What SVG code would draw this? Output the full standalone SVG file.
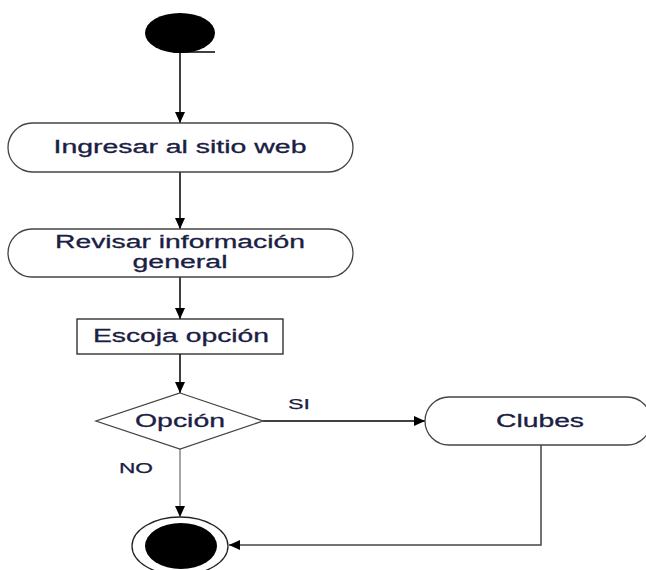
<svg xmlns="http://www.w3.org/2000/svg" width="646" height="570" viewBox="0 0 646 570">
  <defs>
    <marker id="arrow" markerUnits="userSpaceOnUse" markerWidth="12" markerHeight="10" refX="11" refY="5" orient="auto">
      <path d="M0,0 L11,5 L0,10 Z" fill="#000"/>
    </marker>
    <style>
      .box { fill: #fff; stroke: #444; stroke-width: 1.3; }
      .edge { fill: none; stroke: #000; stroke-width: 1.5; }
      .label { font-family: "Liberation Sans", Arial, sans-serif; font-size: 18px; fill: #1a2044; stroke: #1a2044; stroke-width: 0.3; text-anchor: middle; }
      .small { font-size: 14px; stroke-width: 0.25; }
    </style>
  </defs>
  <rect width="646" height="570" fill="#fff"/>

  <g id="connectors">
    <line class="edge" x1="173" y1="52" x2="215" y2="52"/>
    <line class="edge" x1="180" y1="52" x2="180" y2="123" marker-end="url(#arrow)"/>
    <line class="edge" x1="180" y1="172" x2="180" y2="229" marker-end="url(#arrow)"/>
    <line class="edge" x1="180" y1="277" x2="180" y2="319" marker-end="url(#arrow)"/>
    <line class="edge" x1="180" y1="354" x2="180" y2="393" marker-end="url(#arrow)"/>
    <line class="edge" x1="263" y1="421" x2="425" y2="421" marker-end="url(#arrow)"/>
    <line class="edge" x1="180" y1="449" x2="180" y2="517" style="stroke:#888" marker-end="url(#arrow)"/>
    <polyline class="edge" points="541,445 541,545 229,545" style="stroke:#444" marker-end="url(#arrow)"/>
    <line class="edge" x1="180" y1="566" x2="180" y2="570"/>
    <text class="label small" x="299" y="409" textLength="22" lengthAdjust="spacingAndGlyphs">SI</text>
    <text class="label small" x="136" y="473" textLength="34" lengthAdjust="spacingAndGlyphs">NO</text>
  </g>

  <g id="start">
    <ellipse cx="180" cy="33" rx="35" ry="20" fill="#000"/>
  </g>

  <g id="ingresar">
    <rect class="box" x="8" y="123" width="345" height="49" rx="24.5"/>
    <text class="label" x="180" y="153" textLength="253" lengthAdjust="spacingAndGlyphs">Ingresar al sitio web</text>
  </g>

  <g id="revisar">
    <rect class="box" x="8" y="229" width="345" height="48" rx="24"/>
    <text class="label" x="180" y="248" textLength="250" lengthAdjust="spacingAndGlyphs">Revisar información</text>
    <text class="label" x="180" y="268" textLength="95" lengthAdjust="spacingAndGlyphs">general</text>
  </g>

  <g id="escoja">
    <rect class="box" x="77" y="319" width="206" height="35" style="stroke:#222"/>
    <text class="label" x="181" y="342" textLength="176" lengthAdjust="spacingAndGlyphs">Escoja opción</text>
  </g>

  <g id="opcion">
    <polygon class="box" points="180,393 263,421 180,449 96,421"/>
    <text class="label" x="180" y="427" textLength="90" lengthAdjust="spacingAndGlyphs">Opción</text>
  </g>

  <g id="clubes">
    <rect class="box" x="425" y="397" width="226" height="48" rx="24"/>
    <text class="label" x="540" y="427" textLength="88" lengthAdjust="spacingAndGlyphs">Clubes</text>
  </g>

  <g id="end">
    <ellipse cx="180" cy="546" rx="48" ry="29" fill="#fff" stroke="#222" stroke-width="1.3"/>
    <ellipse cx="181" cy="546" rx="36" ry="23" fill="#000"/>
  </g>
</svg>
